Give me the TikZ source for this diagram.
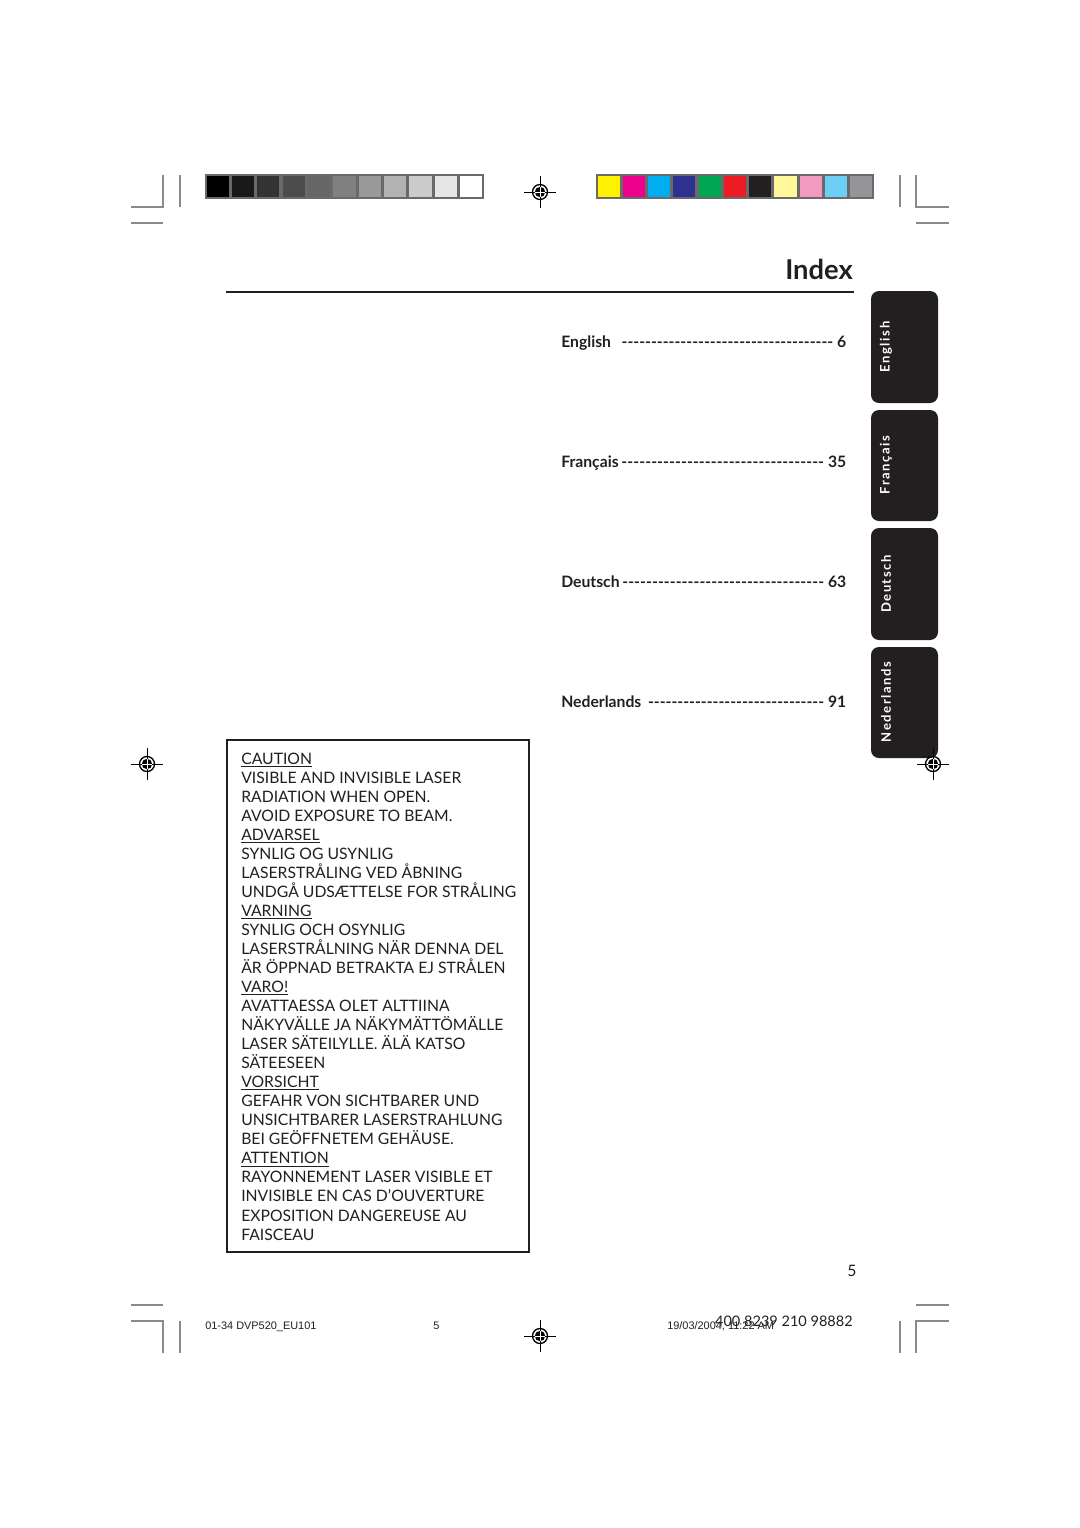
\documentclass[tikz,border=0pt]{standalone}
\usepackage{fontspec}
\setmainfont{Lato}
\newfontfamily\footfont{Liberation Sans}
\definecolor{ink}{HTML}{231F20}
\definecolor{cropgray}{HTML}{8A8A8A}
\definecolor{barframe}{HTML}{6A6A6A}
\definecolor{tabblack}{HTML}{231F20}
\definecolor{cY}{HTML}{FFF200}
\definecolor{cM}{HTML}{EC008C}
\definecolor{cC}{HTML}{00AEEF}
\definecolor{cB}{HTML}{2E3192}
\definecolor{cG}{HTML}{00A651}
\definecolor{cR}{HTML}{ED1C24}
\definecolor{cK}{HTML}{231F20}
\definecolor{cLY}{HTML}{FFF799}
\definecolor{cP}{HTML}{F49AC1}
\definecolor{cLB}{HTML}{6DCFF6}
\definecolor{cGr}{HTML}{939598}
\begin{document}
\begin{tikzpicture}[x=0.75pt,y=-0.75pt,
  crop/.style={draw=cropgray,line width=0.8pt},
  tabbox/.style={fill=tabblack,rounded corners=6pt},
  tabtext/.style={text=white,rotate=90,inner sep=0,font=\fontsize{9.8}{11}\selectfont\bfseries\addfontfeature{LetterSpace=12}},
  cline/.style={anchor=base west,inner sep=0,text=ink,font=\fontsize{11.8}{14}\selectfont},
  entry/.style={anchor=base west,inner sep=0,text=ink,font=\fontsize{11.8}{14}\selectfont\bfseries},
  foot/.style={anchor=base west,inner sep=0,text=ink,font=\fontsize{8.2}{10}\selectfont\footfont},
  regmark/.pic={
    \draw[line width=0.5pt] (-16,0)--(16,0) (0,-16)--(0,16);
    \draw[line width=1pt] (0,0) circle (7.5);
    \fill (0,0) circle (5.2);
    \draw[white,line width=0.5pt] (-5.2,0)--(5.2,0) (0,-5.2)--(0,5.2);
  }]
\useasboundingbox[fill=white] (0,0) rectangle (1080,1528);

% crop marks top
\draw[crop] (131,207)--(163,207)--(163,175);
\draw[crop] (180,175)--(180,207);
\draw[crop] (131,223)--(163,223);
\draw[crop] (949,207)--(916,207)--(916,175);
\draw[crop] (900,175)--(900,207);
\draw[crop] (916,223)--(949,223);
% crop marks bottom
\draw[crop] (131,1305)--(163,1305);
\draw[crop] (131,1321)--(163,1321)--(163,1353);
\draw[crop] (180,1321)--(180,1353);
\draw[crop] (916,1305)--(949,1305);
\draw[crop] (949,1321)--(916,1321)--(916,1353);
\draw[crop] (900,1321)--(900,1353);

% gray bar
\fill[barframe] (205,174) rectangle (484,199);
\foreach \g [count=\i from 0] in {100,90,80,70,60,50,40,30,20,10,0}{
  \fill[black!\g!white] ({205+1.6+\i*25.36},175.6) rectangle ({205-1.6+(\i+1)*25.36},197.4);
}
% colour bar
\fill[barframe] (596,174) rectangle (874,199);
\foreach \c [count=\i from 0] in {cY,cM,cC,cB,cG,cR,cK,cLY,cP,cLB,cGr}{
  \fill[\c] ({596+1.6+\i*25.27},175.6) rectangle ({596-1.6+(\i+1)*25.27},197.4);
}

% registration marks
\pic at (540,192) {regmark};
\pic at (147,764) {regmark};
\pic at (540,1336) {regmark};

% title
\node[anchor=base east,inner sep=0,text=ink,font=\fontsize{20.5}{24}\selectfont\bfseries] (title) at (853,279) {Index};
\draw[ink,line width=1.5pt] (226,292)--(854,292);

% tabs
\fill[tabbox] (871,291) rectangle (938,403);
\fill[tabbox] (871,410) rectangle (938,521);
\fill[tabbox] (871,528) rectangle (938,640);
\fill[tabbox] (871,647) rectangle (938,758);
\node[tabtext] (tEn) at (886,347) {English};
\node[tabtext] (tFr) at (886,465) {Français};
\node[tabtext] (tDe) at (886,584) {Deutsch};
\node[tabtext] (tNl) at (886,702) {Nederlands};
\pic at (933,764) {regmark};

% index entries
\node[entry] (eEn) at (561,347) {\hbox to 213.75pt{English\hskip 8pt\xleaders\hbox{-}\hfill\ 6}};
\node[entry] (eFr) at (561,467) {\hbox to 213.75pt{Français\hskip 2pt\xleaders\hbox{-}\hfill\ 35}};
\node[entry] (eDe) at (561,587) {\hbox to 213.75pt{Deutsch\hskip 2pt\xleaders\hbox{-}\hfill\ 63}};
\node[entry] (eNl) at (561,707) {\hbox to 213.75pt{Nederlands\hskip 5pt\xleaders\hbox{-}\hfill\ 91}};

% caution box
\draw[ink,line width=1.5pt] (227,740) rectangle (529,1252);
\node[cline] (c1) at (241,764.0) {\underline{CAUTION}};
\node[cline] (c2) at (241,783.0) {VISIBLE AND INVISIBLE LASER};
\node[cline] (c3) at (241,802.1) {RADIATION WHEN OPEN.};
\node[cline] (c4) at (241,821.1) {AVOID EXPOSURE TO BEAM.};
\node[cline] (c5) at (241,840.2) {\underline{ADVARSEL}};
\node[cline] (c6) at (241,859.2) {SYNLIG OG USYNLIG};
\node[cline] (c7) at (241,878.2) {LASERSTRÅLING VED ÅBNING};
\node[cline] (c8) at (241,897.3) {UNDGÅ UDSÆTTELSE FOR STRÅLING};
\node[cline] (c9) at (241,916.3) {\underline{VARNING}};
\node[cline] (c10) at (241,935.4) {SYNLIG OCH OSYNLIG};
\node[cline] (c11) at (241,954.4) {LASERSTRÅLNING NÄR DENNA DEL};
\node[cline] (c12) at (241,973.4) {ÄR ÖPPNAD BETRAKTA EJ STRÅLEN};
\node[cline] (c13) at (241,992.5) {\underline{VARO!}};
\node[cline] (c14) at (241,1011.5) {AVATTAESSA OLET ALTTIINA};
\node[cline] (c15) at (241,1030.6) {NÄKYVÄLLE JA NÄKYMÄTTÖMÄLLE};
\node[cline] (c16) at (241,1049.6) {LASER SÄTEILYLLE. ÄLÄ KATSO};
\node[cline] (c17) at (241,1068.6) {SÄTEESEEN};
\node[cline] (c18) at (241,1087.7) {\underline{VORSICHT}};
\node[cline] (c19) at (241,1106.7) {GEFAHR VON SICHTBARER UND};
\node[cline] (c20) at (241,1125.8) {UNSICHTBARER LASERSTRAHLUNG};
\node[cline] (c21) at (241,1144.8) {BEI GEÖFFNETEM GEHÄUSE.};
\node[cline] (c22) at (241,1163.8) {\underline{ATTENTION}};
\node[cline] (c23) at (241,1182.9) {RAYONNEMENT LASER VISIBLE ET};
\node[cline] (c24) at (241,1201.9) {INVISIBLE EN CAS D'OUVERTURE};
\node[cline] (c25) at (241,1221.0) {EXPOSITION DANGEREUSE AU};
\node[cline] (c26) at (241,1240.0) {FAISCEAU};

% page number
\node[anchor=base,inner sep=0,text=ink,font=\fontsize{11.8}{14}\selectfont] (pg) at (852,1276) {5};

% footer
\node[foot] (f1) at (205,1329) {01-34 DVP520\_EU101};
\node[foot] (f2) at (433,1329) {5};
\node[anchor=base east,inner sep=0,text=ink,font=\fontsize{10.9}{13}\selectfont] (f4) at (853,1326) {400 8239 210 98882};
\node[foot] (f3) at (667,1329) {19/03/2004, 11:22 AM};
\end{tikzpicture}
\end{document}
